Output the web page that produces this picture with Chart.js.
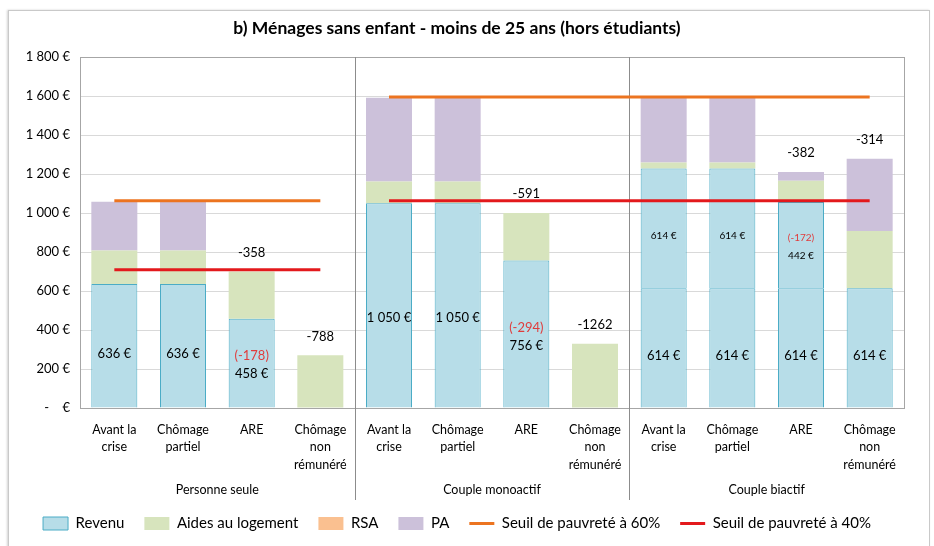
<!DOCTYPE html>
<html lang="fr">
<head>
<meta charset="utf-8">
<script src="https://cdn.jsdelivr.net/npm/chart.js@4.4.1/dist/chart.umd.min.js"></script>
<style>
html, body { margin: 0; padding: 0; background: #fff; overflow: hidden; }
#wrap { position: relative; width: 934px; height: 546px; }
#frame { position: absolute; left: 8px; top: 10px; width: 920px; height: 600px; border: 1px solid #c9c9c9; box-shadow: -1px 0 2px rgba(0,0,0,.18); }
canvas { position: absolute; left: 0; top: 0; }
</style>
</head>
<body>
<div id="wrap"><div id="frame"></div><canvas id="c" width="934" height="546"></canvas></div>
<script>
// categories, 4 per group
var categories = [
    ['Avant la', 'crise'], ['Chômage', 'partiel'], 'ARE', ['Chômage', 'non', 'rémunéré'],
    ['Avant la', 'crise'], ['Chômage', 'partiel'], 'ARE', ['Chômage', 'non', 'rémunéré'],
    ['Avant la', 'crise'], ['Chômage', 'partiel'], 'ARE', ['Chômage', 'non', 'rémunéré']
];
var groups = ['Personne seule', 'Couple monoactif', 'Couple biactif'];

var revenu   = [636, 636, 458, 0,  1050, 1050, 756, 0,  614, 614, 614, 614];
var revenu2  = [0, 0, 0, 0,        0, 0, 0, 0,          614, 614, 442, 0];
var aides    = [172, 172, 242, 270, 112, 112, 244, 329, 31, 31, 110, 294];
var rsa      = [0, 0, 0, 0,        0, 0, 0, 0,          0, 0, 0, 0];
var pa       = [250, 250, 0, 0,    429, 429, 0, 0,      333, 333, 44, 370];
var seuil60  = [1063, 1063, 1063, 1063, 1595, 1595, 1595, 1595, 1595, 1595, 1595, 1595];
var seuil40  = [709, 709, 709, 709, 1063, 1063, 1063, 1063, 1063, 1063, 1063, 1063];

var FONT = 'Lato';
var perGroup = categories.length / groups.length;

function fmt(n) {
    return String(Math.round(n)).replace(/\B(?=(\d{3})+(?!\d))/g, ' ');
}
function total(i) {
    return revenu[i] + revenu2[i] + aides[i] + rsa[i] + pa[i];
}

// hide the link between the two household groups
var gapSegment = {
    borderColor: function(c) { return c.p0.parsed.y !== c.p1.parsed.y ? 'rgba(0,0,0,0)' : undefined; }
};

var overlay = {
    id: 'overlay',
    beforeDatasetsDraw: function(chart) {
        var ctx = chart.ctx, a = chart.chartArea, xs = chart.scales.x;
        ctx.save();
        ctx.strokeStyle = '#a6a6a6';
        ctx.lineWidth = 1;
        ctx.strokeRect(Math.round(a.left) + 0.5, Math.round(a.top) + 0.5, Math.round(a.right - a.left), Math.round(a.bottom - a.top));
        ctx.strokeStyle = '#8c8c8c';
        for (var g = 1; g < groups.length; g++) {
            var sx = Math.round((xs.getPixelForValue(g * perGroup - 1) + xs.getPixelForValue(g * perGroup)) / 2) + 0.5;
            ctx.beginPath();
            ctx.moveTo(sx, a.top);
            ctx.lineTo(sx, a.bottom + 92);
            ctx.stroke();
        }
        ctx.restore();
    },
    afterDatasetsDraw: function(chart) {
        var ctx = chart.ctx, a = chart.chartArea, xs = chart.scales.x, ys = chart.scales.y;
        ctx.save();
        ctx.textAlign = 'center';
        ctx.textBaseline = 'middle';

        function segLabel(cx, base, val, loss, size) {
            var mid;
            ctx.font = size + 'px ' + FONT;
            if (loss > 0) {
                mid = ys.getPixelForValue(base + val * 0.48);
                ctx.fillStyle = '#e03c3c';
                ctx.fillText('(-' + fmt(loss) + ')', cx, mid - 9);
                ctx.fillStyle = '#000';
                ctx.fillText(fmt(val) + ' €', cx, mid + 9);
            } else {
                mid = ys.getPixelForValue(base + val * 0.44);
                ctx.fillStyle = '#000';
                ctx.fillText(fmt(val) + ' €', cx, mid);
            }
        }

        for (var i = 0; i < categories.length; i++) {
            var g0 = Math.floor(i / perGroup) * perGroup;
            var cx = xs.getPixelForValue(i);
            if (revenu[i] > 0) segLabel(cx, 0, revenu[i], revenu[g0] - revenu[i], 13);
            if (revenu2[i] > 0) segLabel(cx, revenu[i], revenu2[i], revenu2[g0] - revenu2[i], 10);
            var diff = total(i) - total(g0);
            if (diff !== 0) {
                ctx.font = '13px ' + FONT;
                ctx.fillStyle = '#000';
                ctx.fillText(String(diff), cx, ys.getPixelForValue(total(i)) - 19);
            }
        }

        // group names under the category labels
        ctx.font = '12.5px ' + FONT;
        ctx.fillStyle = '#000';
        for (var g = 0; g < groups.length; g++) {
            var gx = (xs.getPixelForValue(g * perGroup) + xs.getPixelForValue(g * perGroup + perGroup - 1)) / 2;
            ctx.fillText(groups[g], gx, a.bottom + 82);
        }
        ctx.restore();
    }
};

var revenuStyle = { backgroundColor: '#b7dde8', borderColor: '#4bacc6', borderWidth: 1 };

new Chart(document.getElementById('c'), {
    type: 'bar',
    data: {
        labels: categories,
        datasets: [
            Object.assign({ label: 'Revenu', data: revenu, stack: 'b', order: 1, pointStyle: 'rect' }, revenuStyle),
            Object.assign({ label: 'Revenu 2', data: revenu2, stack: 'b', order: 1, pointStyle: 'rect' }, revenuStyle),
            { label: 'Aides au logement', data: aides, stack: 'b', order: 1, pointStyle: 'rect',
              backgroundColor: '#d7e4bd', borderWidth: 0 },
            { label: 'RSA', data: rsa, stack: 'b', order: 1, pointStyle: 'rect',
              backgroundColor: '#fac090', borderWidth: 0 },
            { label: 'PA', data: pa, stack: 'b', order: 1, pointStyle: 'rect',
              backgroundColor: '#ccc1da', borderWidth: 0 },
            { type: 'line', label: 'Seuil de pauvreté à 60%', data: seuil60, stack: 's60', order: 0,
              borderColor: '#ec7420', borderWidth: 3, pointRadius: 0, pointStyle: 'line', segment: gapSegment },
            { type: 'line', label: 'Seuil de pauvreté à 40%', data: seuil40, stack: 's40', order: 0,
              borderColor: '#e3191c', borderWidth: 3, pointRadius: 0, pointStyle: 'line', segment: gapSegment }
        ]
    },
    options: {
        responsive: false,
        animation: false,
        layout: { padding: { left: 10, right: 30, top: 0, bottom: 6 } },
        datasets: { bar: { categoryPercentage: 1, barPercentage: 0.67 } },
        scales: {
            x: {
                stacked: true,
                grid: { display: false },
                border: { display: false },
                ticks: { color: '#000', font: { family: FONT, size: 12.5, lineHeight: 1.4 }, maxRotation: 0, autoSkip: false, padding: 5 },
                afterFit: function(s) { s.height = 88; }
            },
            y: {
                stacked: true,
                min: 0, max: 1800,
                grid: { color: '#d9d9d9', drawTicks: false },
                border: { display: false },
                ticks: {
                    stepSize: 200, padding: 10, color: '#000',
                    font: { family: FONT, size: 13 },
                    callback: function(v) { return v === 0 ? '-    €' : fmt(v) + ' €'; }
                },
                afterFit: function(s) { s.width = 70; }
            }
        },
        plugins: {
            title: {
                display: true,
                text: 'b) Ménages sans enfant - moins de 25 ans (hors étudiants)',
                color: '#000',
                font: { family: FONT, size: 17.5, weight: 'bold' },
                padding: { top: 18, bottom: 18 }
            },
            legend: {
                position: 'bottom',
                maxHeight: 44,
                labels: {
                    usePointStyle: true, pointStyleWidth: 25, boxHeight: 13,
                    padding: 20, color: '#000',
                    font: { family: FONT, size: 15 },
                    filter: function(item) { return item.text !== 'Revenu 2'; },
                    sort: function(p, q) { return p.datasetIndex - q.datasetIndex; }
                }
            },
            tooltip: { enabled: false }
        }
    },
    plugins: [overlay]
});
</script>
</body>
</html>
